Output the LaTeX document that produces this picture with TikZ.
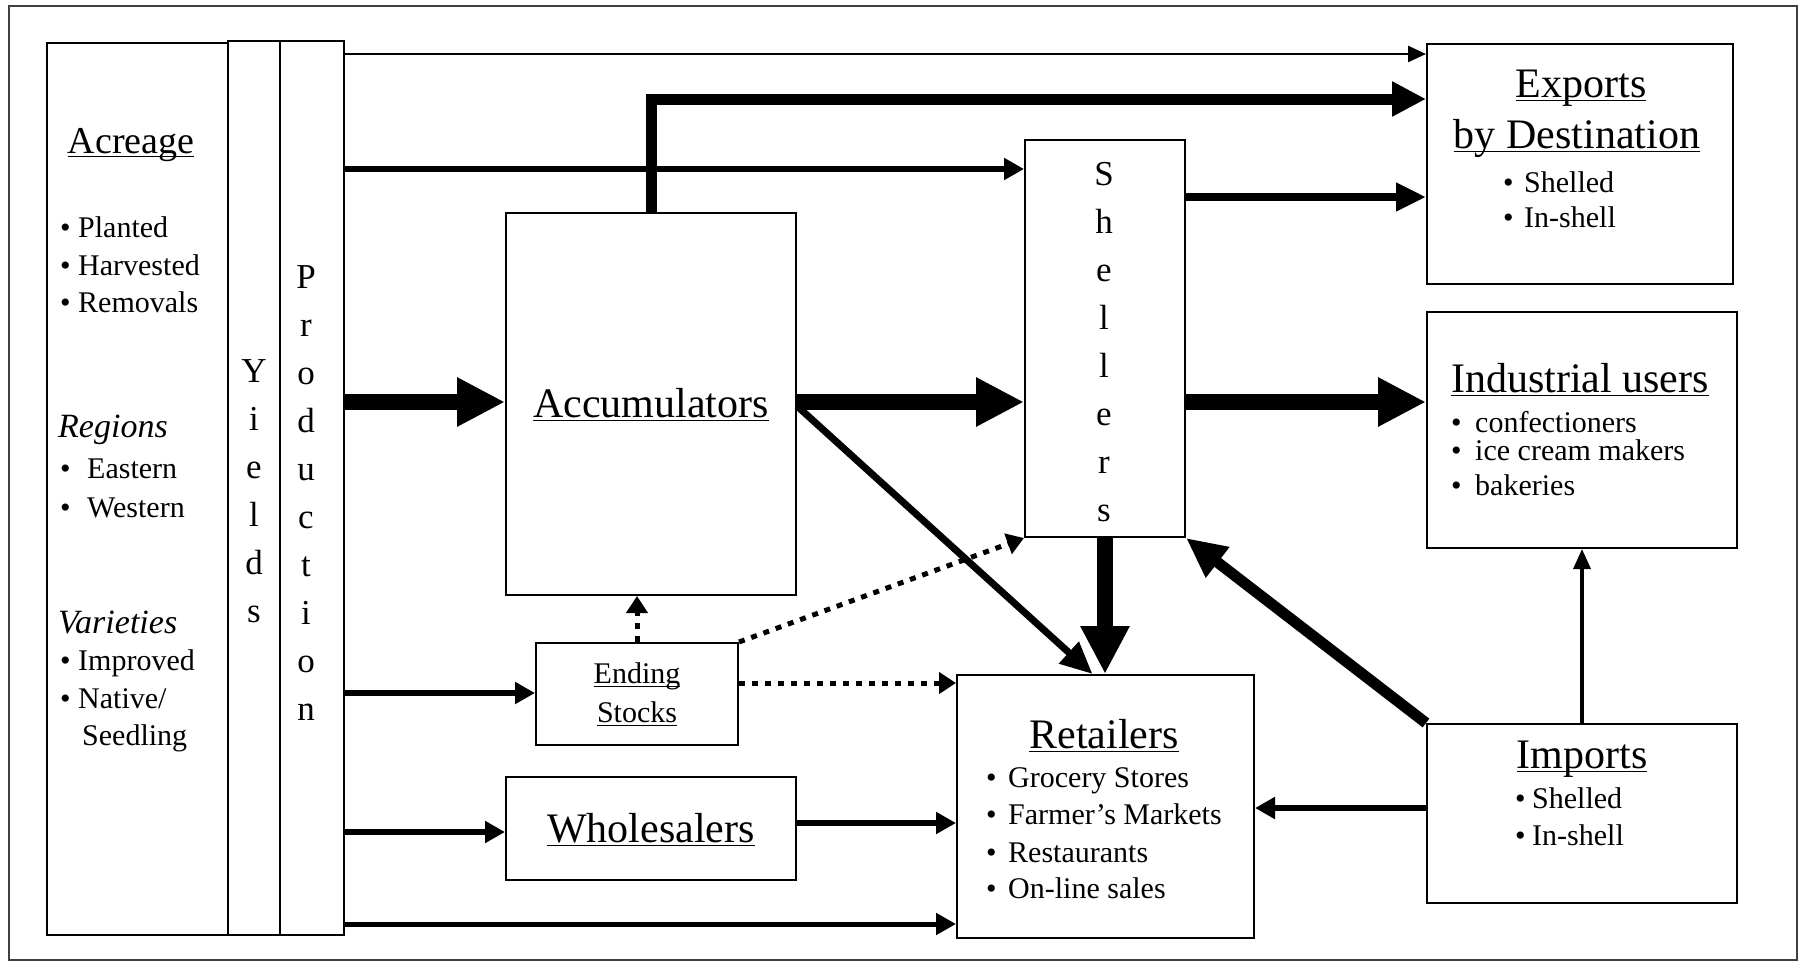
\documentclass[tikz,border=0pt]{standalone}
\usepackage{fontspec}
\setmainfont{Liberation Serif}
\usepackage{amsmath}
\usetikzlibrary{arrows.meta,calc}
\newcommand\ulx[1]{\underline{\smash[b]{#1}}}
\newcommand\fHead{\fontsize{42}{50}\selectfont}
\newcommand\fAcr{\fontsize{38}{46}\selectfont}
\newcommand\fBody{\fontsize{30}{36}\selectfont}
\newcommand\fSub{\fontsize{34}{40}\selectfont\itshape}
\newcommand\fLet{\fontsize{35}{40}\selectfont}
\begin{document}
\begin{tikzpicture}[x=1pt,y=-1pt,
  box/.style={draw, line width=2pt, inner sep=0pt},
  txt/.style={inner sep=0pt, anchor=base},
  ltxt/.style={inner sep=0pt, anchor=base west},
  hd/.style={txt, font=\fHead},
  bl/.style={ltxt, font=\fBody},
  letter/.style={txt, font=\fLet},
  thinar/.style={line width=2.5pt, -{Triangle[length=18pt,width=16pt]}},
  medar/.style={line width=6pt, -{Triangle[length=20pt,width=21pt]}},
  midar/.style={line width=8pt, -{Triangle[length=30pt,width=27pt]}},
  bigar/.style={line width=11pt, -{Triangle[length=34pt,width=33pt]}},
  heavyar/.style={line width=16pt, -{Triangle[length=48pt,width=46pt]}},
  diagar/.style={line width=7pt, -{Triangle[length=32pt,width=28pt]}},
  impar/.style={line width=11pt, -{Triangle[length=40pt,width=36pt]}},
  upar/.style={line width=3.5pt, -{Triangle[length=20pt,width=17pt]}},
  dotar/.style={line width=5pt, dash pattern=on 6pt off 7pt, -{Triangle[length=17pt,width=21pt]}}
]
\useasboundingbox (0,0) rectangle (1809,967);
% frame
\node[draw=black!75, line width=1.6pt, inner sep=0pt, minimum width=1788pt, minimum height=954pt] (frame) at (903,483) {};
% boxes
\node[box, minimum width=181pt, minimum height=892pt] (acre) at (137.5,489) {};
\node[box, minimum width=52pt, minimum height=894pt] (yld) at (254,488) {};
\node[box, minimum width=64pt, minimum height=894pt] (prod) at (312,488) {};
\node[box, minimum width=290pt, minimum height=382pt] (acc) at (651,404) {};
\node[box, minimum width=202pt, minimum height=102pt] (end) at (637,694) {};
\node[box, minimum width=290pt, minimum height=103pt] (whl) at (651,828.5) {};
\node[box, minimum width=160pt, minimum height=397pt] (shl) at (1105,338.5) {};
\node[box, minimum width=297pt, minimum height=263pt] (ret) at (1105.5,806.5) {};
\node[box, minimum width=306pt, minimum height=240pt] (exp) at (1580,164) {};
\node[box, minimum width=310pt, minimum height=236pt] (ind) at (1582,430) {};
\node[box, minimum width=310pt, minimum height=179pt] (imp) at (1582,813.5) {};
% left box texts
\node[txt, font=\fAcr] (tacre) at (131,153) {\ulx{Acreage}};
\foreach \w/\yy [count=\i] in {Planted/237, Harvested/275, Removals/312}{
  \node[bl] (ab\i) at (60,\yy) {•};
  \node[bl] (at\i) at (78,\yy) {\w};
}
\node[ltxt, font=\fSub] (treg) at (58,437) {Regions};
\foreach \w/\yy [count=\i] in {Eastern/478, Western/517}{
  \node[bl] (rb\i) at (60,\yy) {•};
  \node[bl] (rt\i) at (87,\yy) {\w};
}
\node[ltxt, font=\fSub] (tvar) at (58,633) {Varieties};
\node[bl] (vb1) at (60,670) {•};
\node[bl] (vt1) at (78,670) {Improved};
\node[bl] (vb2) at (60,708) {•};
\node[bl] (vt2) at (78,708) {Native/};
\node[bl] (vt3) at (82,745) {Seedling};
% vertical letters
\foreach \c [count=\i] in {Y,i,e,l,d,s}
  \node[letter] (yl\i) at (254,{382+48*(\i-1)}) {\c};
\foreach \c [count=\i] in {P,r,o,d,u,c,t,i,o,n}
  \node[letter] (pl\i) at (306,{288+48*(\i-1)}) {\c};
\foreach \c [count=\i] in {S,h,e,l,l,e,r,s}
  \node[letter] (sl\i) at (1104,{185+48*(\i-1)}) {\c};
% headings
\node[hd] (tacc) at (651,417) {\ulx{Accumulators}};
\node[hd] (twhl) at (651,842) {\ulx{Wholesalers}};
\node[txt, font=\fBody] (tend1) at (637,683) {\ulx{Ending}};
\node[txt, font=\fBody] (tend2) at (637,722) {\ulx{Stocks}};
\node[hd] (texp1) at (1581,97) {\ulx{Exports}};
\node[hd] (texp2) at (1577,148) {\ulx{by Destination}};
\node[bl] (eb1) at (1503,192) {•};
\node[bl] (et1) at (1524,192) {Shelled};
\node[bl] (eb2) at (1503,227) {•};
\node[bl] (et2) at (1524,227) {In-shell};
\node[hd] (tind) at (1580,392) {\ulx{Industrial users}};
\foreach \w/\yy [count=\i] in {confectioners/432, ice cream makers/460, bakeries/495}{
  \node[bl] (ib\i) at (1451,\yy) {•};
  \node[bl] (it\i) at (1475,\yy) {\w};
}
\node[hd] (tret) at (1104,748) {\ulx{Retailers}};
\foreach \w/\yy [count=\i] in {Grocery Stores/787, Farmer's Markets/824, Restaurants/862, On-line sales/898}{
  \node[bl] (gb\i) at (986,\yy) {•};
  \node[bl] (gt\i) at (1008,\yy) {\w};
}
\node[hd] (timp) at (1582,768) {\ulx{Imports}};
\node[bl] (mb1) at (1515,808) {•};
\node[bl] (mt1) at (1532,808) {Shelled};
\node[bl] (mb2) at (1515,845) {•};
\node[bl] (mt2) at (1532,845) {In-shell};
% level coordinates
\coordinate (r1) at (0,54);
\coordinate (r2) at (0,99);
\coordinate (r3) at (0,169);
\coordinate (r4) at (0,402);
\coordinate (r6) at (0,197);
\coordinate (r8) at (0,406);
\coordinate (r12) at (0,808);
\coordinate (r15) at (0,683);
\coordinate (r16) at (0,693);
\coordinate (r17) at (0,832);
\coordinate (r18) at (0,823);
\coordinate (r19) at (0,924);
% arrows
\draw[thinar] (prod.east |- r1) -- (exp.west |- r1);
\draw[bigar, line join=miter] (acc.north) |- (exp.west |- r2);
\draw[medar] (prod.east |- r3) -- (shl.west |- r3);
\draw[heavyar] (prod.east |- r4) -- (acc.west |- r4);
\draw[heavyar] (acc.east |- r4) -- (shl.west |- r4);
\draw[midar] (shl.east |- r6) -- (exp.west |- r6);
\draw[heavyar] (shl.east |- r4) -- (ind.west |- r4);
\draw[diagar] (acc.east |- r8) -- ($(ret.north)+(-13,0)$);
\draw[heavyar] (shl.south) -- (shl.south |- ret.north);
\draw[impar] (imp.north west) -- (shl.south east);
\draw[upar] (imp.north) -- (ind.south);
\draw[medar] (imp.west |- r12) -- (ret.east |- r12);
\draw[dotar] (end.north) -- (end.north |- acc.south);
\draw[dotar] (end.north east) -- (shl.south west);
\draw[dotar] (end.east |- r15) -- (ret.west |- r15);
\draw[medar] (prod.east |- r16) -- (end.west |- r16);
\draw[medar] (prod.east |- r17) -- (whl.west |- r17);
\draw[medar] (whl.east |- r18) -- (ret.west |- r18);
\draw[medar, line width=5pt] (prod.east |- r19) -- (ret.west |- r19);
\end{tikzpicture}
\end{document}
